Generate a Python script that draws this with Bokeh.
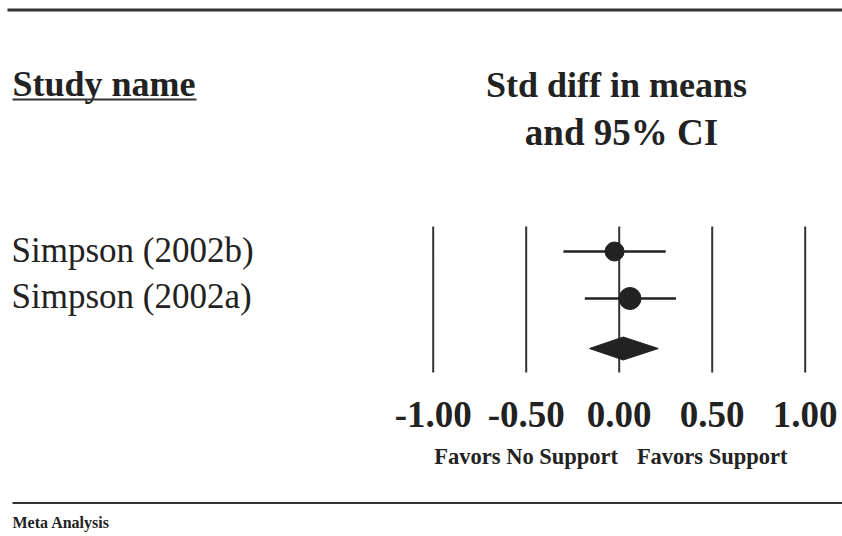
from bokeh.plotting import figure
from bokeh.models import Range1d
from bokeh.core.properties import value
from bokeh.embed import file_html
from bokeh.resources import INLINE

# --- data -------------------------------------------------------------
study_names = ["Simpson (2002b)", "Simpson (2002a)"]
std_diff = [-0.025, 0.058]
ci_lower = [-0.30, -0.185]
ci_upper = [0.25, 0.305]
marker_sizes = [19, 22]

summary_est = 0.022
summary_lower = -0.16
summary_upper = 0.21

tick_values = [-1.0, -0.5, 0.0, 0.5, 1.0]
tick_labels = ["-1.00", "-0.50", "0.00", "0.50", "1.00"]

favors_left = "Favors No Support"
favors_right = "Favors Support"

# --- layout -----------------------------------------------------------
W, H = 842, 536
ZERO_PX = 618.7      # horizontal pixel of effect = 0
PX_PER_UNIT = 186.0  # pixels per unit of std diff

def px(xpix):
    """Convert a horizontal page position to effect-size units."""
    return (xpix - ZERO_PX) / PX_PER_UNIT

def base(y, size):
    """Anchor y so that the text's baseline lands on the given line."""
    return y - 0.31 * size

row_y = [251, 298]
summary_y = 348
diamond_half = 11.5
ref_top, ref_bottom = 226, 372

SERIF = value("Liberation Serif")
INK = "#222222"

p = figure(width=W, height=H, output_backend="svg", toolbar_location=None,
           x_range=Range1d(px(0), px(W)), y_range=Range1d(H, 0),
           min_border=0)
p.axis.visible = False
p.grid.visible = False
p.outline_line_color = None
p.background_fill_color = "white"
p.border_fill_color = "white"

# horizontal rules
p.segment(x0=[px(7)], y0=[9.5], x1=[px(W)], y1=[9.5], line_color="#333333", line_width=3)
p.segment(x0=[px(12)], y0=[502.5], x1=[px(W)], y1=[502.5], line_color="#333333", line_width=2)

# vertical reference lines at each tick
p.segment(x0=tick_values, y0=[ref_top] * len(tick_values),
          x1=tick_values, y1=[ref_bottom] * len(tick_values),
          line_color="#333333", line_width=2)

# confidence intervals and point estimates
p.segment(x0=ci_lower, y0=row_y, x1=ci_upper, y1=row_y, line_color=INK, line_width=2.5)
p.scatter(x=std_diff, y=row_y, size=marker_sizes, marker="circle",
          fill_color=INK, line_color=INK)

# summary diamond
p.patch(x=[summary_lower, summary_est, summary_upper, summary_est],
        y=[summary_y, summary_y - diamond_half, summary_y, summary_y + diamond_half],
        fill_color=INK, line_color=INK)

# headers
p.text(x=[px(12)], y=[base(94.3, 36)], text=["Study name"], text_font=SERIF, text_font_size="36px",
       text_font_style="bold", text_color=INK, text_baseline="alphabetic", text_align="left")
p.segment(x0=[px(12)], y0=[99], x1=[px(196)], y1=[99], line_color="#333333", line_width=2)

p.text(x=[px(616)], y=[base(95.7, 36)], text=["Std diff in means"], text_font=SERIF,
       text_font_size="36px", text_font_style="bold", text_color=INK,
       text_baseline="alphabetic", text_align="center")
p.text(x=[px(621)], y=[base(143.3, 37)], text=["and 95% CI"], text_font=SERIF,
       text_font_size="37px", text_font_style="bold", text_color=INK,
       text_baseline="alphabetic", text_align="center")

# study names
p.text(x=[px(11)] * len(study_names), y=[base(261, 35), base(306.7, 35)], text=study_names,
       text_font=SERIF, text_font_size="35px", text_color=INK,
       text_baseline="alphabetic", text_align="left")

# tick labels
p.text(x=tick_values, y=[base(425, 37)] * len(tick_values), text=tick_labels, text_font=SERIF,
       text_font_size="37px", text_font_style="bold", text_color=INK,
       text_baseline="alphabetic", text_align="center")

# favours labels
p.text(x=[-0.5, 0.5], y=[base(463, 22.5)] * 2, text=[favors_left, favors_right], text_font=SERIF,
       text_font_size="22.5px", text_font_style="bold", text_color=INK,
       text_baseline="alphabetic", text_align="center")

# footer
p.text(x=[px(12)], y=[base(526.7, 16)], text=["Meta Analysis"], text_font=SERIF,
       text_font_size="16px", text_font_style="bold", text_color=INK,
       text_baseline="alphabetic", text_align="left")

open("out.html", "w").write(file_html(p, INLINE))
